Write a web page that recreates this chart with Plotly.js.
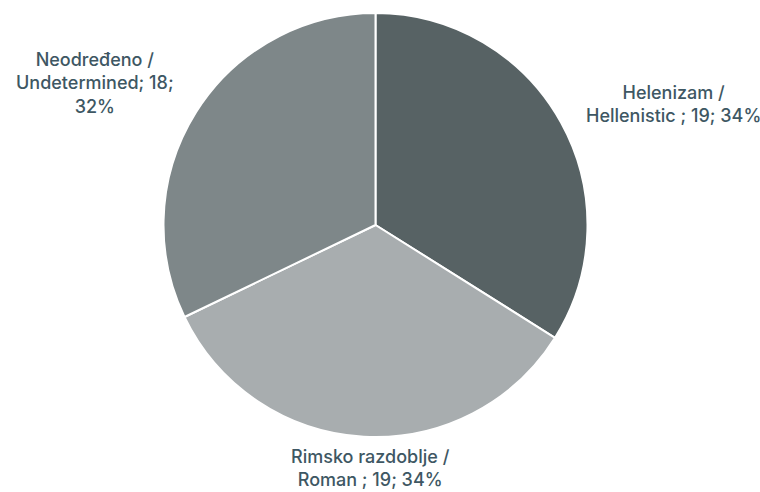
<!DOCTYPE html>
<html>
<head>
<meta charset="utf-8">
<script src="https://cdn.plot.ly/plotly-3.0.1.min.js"></script>
<style>html,body{margin:0;padding:0;background:#fff;}#chart{width:760px;height:492px;}</style>
</head>
<body>
<div id="chart"></div>
<script>
const categories = ["Helenizam / Hellenistic", "Rimsko razdoblje / Roman", "Neodređeno / Undetermined"];
const labelTexts = ["Helenizam /<br>Hellenistic ; ", "Rimsko razdoblje /<br>Roman ; ", "Neodređeno /<br>Undetermined; "];
const values = [19, 19, 18];
const colors = ["#576264", "#a8adaf", "#7e8789"];

const total = values.reduce((a, b) => a + b, 0);
const pct = values.map(v => Math.round(v / total * 100));

const annPos = [
  {x: 673 / 760, y: 1 - 104 / 492},
  {x: 370 / 760, y: 1 - 468 / 492},
  {x: 95 / 760, y: 1 - 83 / 492}
];
const labelLines = [
  labelTexts[0] + values[0] + "; " + pct[0] + "%",
  labelTexts[1] + values[1] + "; " + pct[1] + "%",
  labelTexts[2] + values[2] + ";<br>" + pct[2] + "%"
];

const annotations = labelLines.map((t, i) => ({
  text: t, x: annPos[i].x, y: annPos[i].y, xref: "paper", yref: "paper",
  xanchor: "center", yanchor: "middle", showarrow: false, align: "center",
  font: {family: "Inter, 'Open Sans', sans-serif", size: 18, weight: 500, color: "#3e5763"}
}));

Plotly.newPlot("chart", [{
  type: "pie",
  labels: categories,
  values: values,
  sort: false,
  direction: "clockwise",
  rotation: 0,
  textinfo: "none",
  hoverinfo: "label+value+percent",
  marker: {colors: colors, line: {color: "#ffffff", width: 2}},
  domain: {x: [163 / 760, 588 / 760], y: [1 - 437 / 492, 1 - 13 / 492]}
}], {
  width: 760, height: 492,
  margin: {l: 0, r: 0, t: 0, b: 0},
  paper_bgcolor: "#ffffff",
  showlegend: false,
  annotations: annotations
}, {displayModeBar: false, staticPlot: true});
</script>
</body>
</html>
